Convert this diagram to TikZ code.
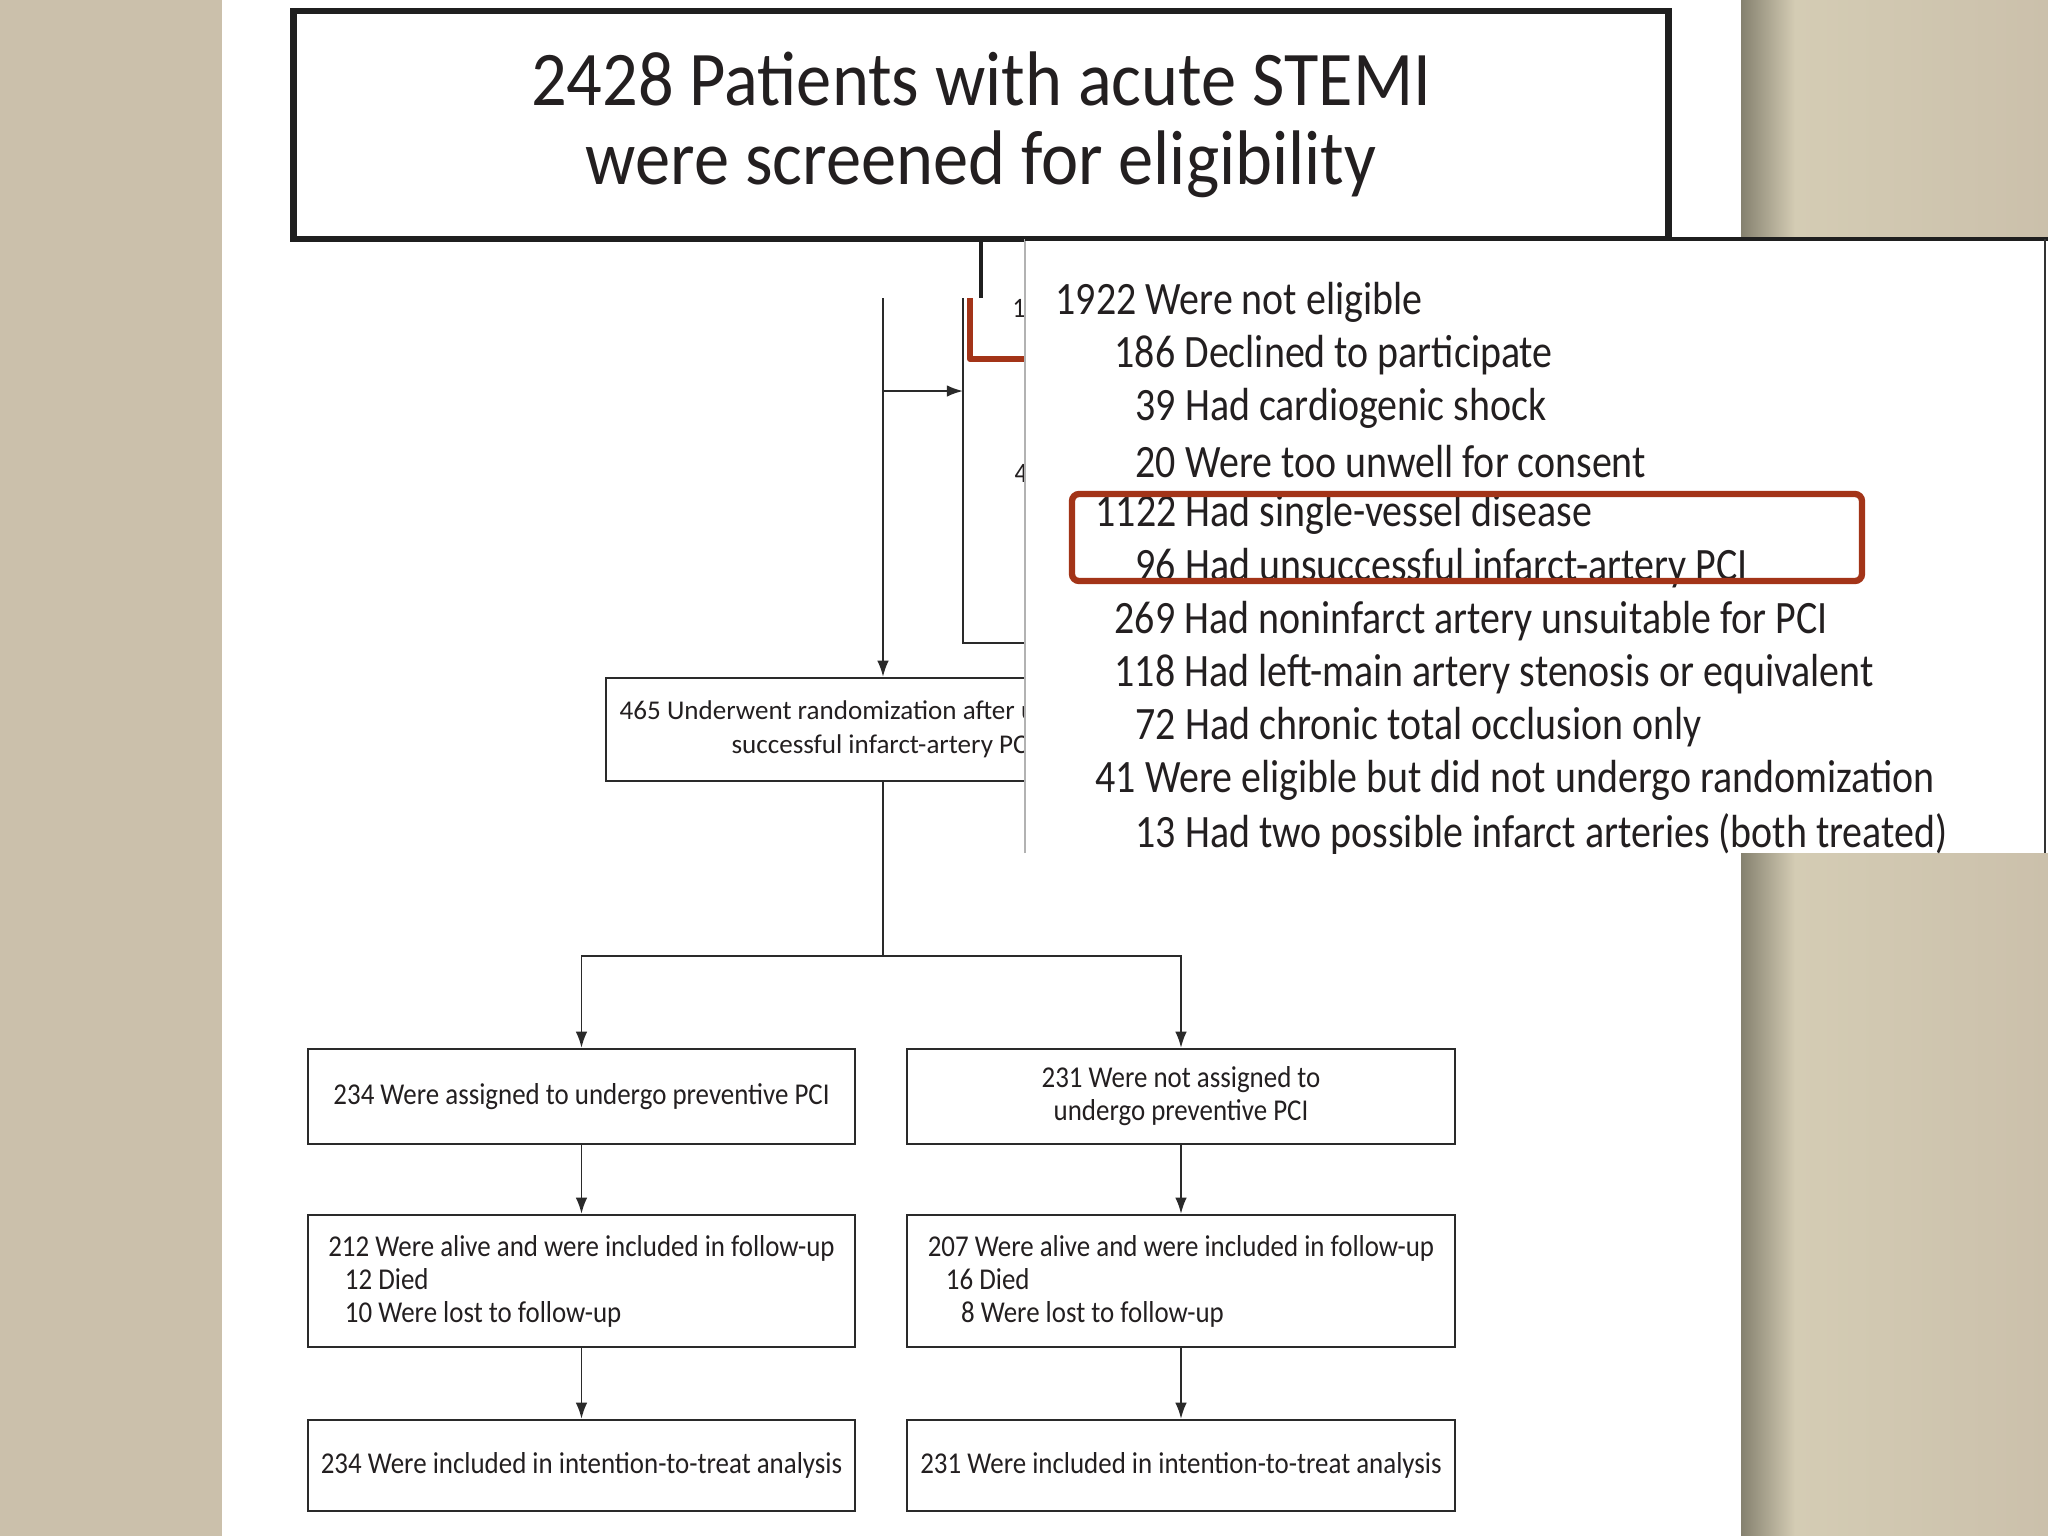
\documentclass[tikz,border=0pt]{standalone}
\usepackage{fontspec}
\setmainfont{Carlito}
\newfontfamily\titlefont[FakeStretch=0.91]{Carlito}
\newfontfamily\panelfont[FakeStretch=0.86]{Carlito}
\newfontfamily\flowfont[FakeStretch=0.89]{Carlito}
\usetikzlibrary{arrows.meta,positioning}
\definecolor{bgbeige}{HTML}{CBC0AB}
\definecolor{bgright}{HTML}{D4CCB4}
\definecolor{shadowgrey}{HTML}{85816F}
\definecolor{hired}{HTML}{A33418}
\definecolor{ink}{HTML}{231F20}
\definecolor{lineg}{HTML}{2A2A2A}

\begin{document}
\begin{tikzpicture}[x=0.01cm, y=-0.01cm, every node/.style={text=ink}, flowbox/.style={draw=lineg, line width=0.65pt, fill=white, minimum width=5.47cm, inner sep=0pt, align=center, font=\flowfont\fontsize{8.6}{9.4}\selectfont}, arr/.style={-{Latex[length=4.6pt,width=3.3pt]}, line width=0.55pt, draw=lineg}, lst/.style={anchor=west, inner sep=0pt, font=\panelfont\fontsize{13.2}{15}\selectfont}]
\useasboundingbox (0,0) rectangle (2048,1536);
% slide background and page
\fill[bgbeige] (0,0) rectangle (2048,1536);
\fill[white] (222,0) rectangle (1741,1536);
\shade[left color=shadowgrey, right color=bgright] (1741,0) rectangle (1795,1536);
\shade[left color=bgright, right color=bgbeige] (1795,0) rectangle (2048,1536);

% flow chart
\coordinate (vtop) at (883,298);
\coordinate (split) at (883,391);
\coordinate (exin) at (963,391);
\coordinate (fork) at (883,956);
\draw[lineg, line width=0.5pt] (963,298) -- (963,643) -- (1030,643);
\draw[arr] (split) -- (exin);
\node[draw=lineg, line width=0.65pt, inner sep=0pt, minimum width=5.54cm, minimum height=1.03cm, align=center, font=\fontsize{7.7}{9.7}\selectfont] (rand) at (883,729.5) {465 Underwent randomization after undergoing\\successful infarct-artery PCI};
\draw[arr] (vtop) -- (rand.north);
\node[flowbox, minimum height=0.95cm] (prev) at (581.5,1096.5) {234 Were assigned to undergo preventive PCI};
\node[flowbox, minimum height=0.95cm] (noprev) at (1181,1096.5) {231 Were not assigned to\\undergo preventive PCI};
\node[flowbox, minimum height=1.32cm, align=left] (alivep) at (581.5,1281) {212 Were alive and were included in follow-up\\\hspace*{0.55em}12 Died\\\hspace*{0.55em}10 Were lost to follow-up};
\node[flowbox, minimum height=1.32cm, align=left] (alivec) at (1181,1281) {207 Were alive and were included in follow-up\\\hspace*{0.6em}16 Died\\\hspace*{1.1em}8 Were lost to follow-up};
\node[flowbox, minimum height=0.91cm] (ittp) at (581.5,1465.5) {234 Were included in intention-to-treat analysis};
\node[flowbox, minimum height=0.91cm] (ittc) at (1181,1465.5) {231 Were included in intention-to-treat analysis};
\draw[arr] (rand.south) -- (fork) -| (prev.north);
\draw[arr] (fork) -| (noprev.north);
\draw[arr] (prev) -- (alivep);
\draw[arr] (noprev) -- (alivec);
\draw[arr] (alivep) -- (ittp);
\draw[arr] (alivec) -- (ittc);
\node[inner sep=0pt, font=\flowfont\fontsize{8}{9.4}\selectfont] (cut1) at (1019,308) {1};
\node[inner sep=0pt, font=\flowfont\fontsize{8}{9.4}\selectfont] (cut4) at (1021,473) {4};

% enlarged title box
\node[draw=black!88, line width=1.8pt, fill=white, minimum width=13.74cm, minimum height=2.28cm, align=center, font=\titlefont\fontsize{22}{22.4}\selectfont] (screen) at (981,125) {2428 Patients with acute STEMI\\were screened for eligibility};
\coordinate (stubend) at (980,298);
\draw[black!88, line width=1.4pt] (screen.south) -- (screen.south |- stubend);
\draw[hired, line width=1.7pt, line join=round] (970,298) -- (970,359) -- (1030,359);

% enlarged exclusion panel
\fill[white] (1025,239) rectangle (2048,853);
\draw[black!30, line width=0.4pt] (1025,853) -- (1025,239);
\draw[black!88, line width=0.9pt] (1025,239) -- (2048,239);
\draw[black!80, line width=0.8pt] (2045,239) -- (2045,853);
\begin{scope}
\clip (1025,239) rectangle (2048,853);
\foreach \i/\xx/\txt in {0/1055/1922 Were not eligible, 1/1114/186 Declined to participate, 2/1135/39 Had cardiogenic shock, 3/1135/20 Were too unwell for consent, 4/1095/1122 Had single-vessel disease, 5/1135/96 Had unsuccessful infarct-artery PCI, 6/1114/269 Had noninfarct artery unsuitable for PCI, 7/1114/118 Had left-main artery stenosis or equivalent, 8/1135/72 Had chronic total occlusion only, 9/1095/41 Were eligible but did not undergo randomization, 10/1135/13 Had two possible infarct arteries (both treated)}
  \node[lst] (ex\i) at (\xx,{302+53.2*\i}) {\txt};
\end{scope}
\draw[hired, line width=1.8pt, rounded corners=2pt] (1072,494) rectangle (1862,581);
\end{tikzpicture}
\end{document}
